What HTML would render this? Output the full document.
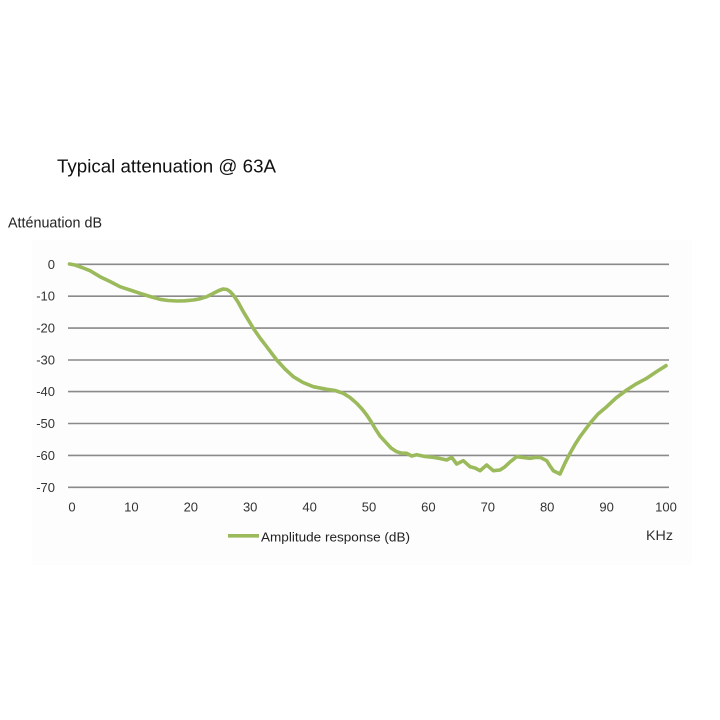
<!DOCTYPE html>
<html>
<head>
<meta charset="utf-8">
<style>
  html,body{margin:0;padding:0;background:#ffffff;}
  svg{display:block;}
  text{font-family:"Liberation Sans", sans-serif;}
</style>
</head>
<body>
<svg width="720" height="720" viewBox="0 0 720 720" xmlns="http://www.w3.org/2000/svg">
  <rect x="0" y="0" width="720" height="720" fill="#ffffff"/>
  <rect x="32" y="240" width="660" height="325" fill="#fdfdfd"/>

  <!-- Title -->
  <text x="57" y="172.3" font-size="18.5" fill="#111" textLength="219" lengthAdjust="spacingAndGlyphs">Typical attenuation @ 63A</text>

  <!-- Y axis title -->
  <text x="8" y="227.3" font-size="14.3" fill="#222" textLength="94" lengthAdjust="spacingAndGlyphs">Atténuation dB</text>

  <!-- Gridlines -->
  <g stroke="#8a8a8a" stroke-width="1.6">
    <line x1="68" y1="264.3" x2="669" y2="264.3"/>
    <line x1="68" y1="296.2" x2="669" y2="296.2"/>
    <line x1="68" y1="328.1" x2="669" y2="328.1"/>
    <line x1="68" y1="360" x2="669" y2="360"/>
    <line x1="68" y1="391.6" x2="669" y2="391.6"/>
    <line x1="68" y1="423.5" x2="669" y2="423.5"/>
    <line x1="68" y1="455.4" x2="669" y2="455.4"/>
    <line x1="68" y1="487.3" x2="669" y2="487.3"/>
  </g>

  <!-- Y tick labels -->
  <g font-size="13" fill="#333" text-anchor="end">
    <text x="55" y="268.8">0</text>
    <text x="55" y="300.7">-10</text>
    <text x="55" y="332.6">-20</text>
    <text x="55" y="364.5">-30</text>
    <text x="55" y="396.1">-40</text>
    <text x="55" y="428">-50</text>
    <text x="55" y="459.9">-60</text>
    <text x="55" y="491.8">-70</text>
  </g>

  <!-- X tick labels -->
  <g font-size="13" fill="#333" text-anchor="middle">
    <text x="72" y="511.5">0</text>
    <text x="131.4" y="511.5">10</text>
    <text x="190.8" y="511.5">20</text>
    <text x="250.2" y="511.5">30</text>
    <text x="309.6" y="511.5">40</text>
    <text x="369" y="511.5">50</text>
    <text x="428.4" y="511.5">60</text>
    <text x="487.8" y="511.5">70</text>
    <text x="547.2" y="511.5">80</text>
    <text x="606.6" y="511.5">90</text>
    <text x="666" y="511.5">100</text>
  </g>

  <!-- Curve -->
  <polyline fill="none" stroke="#9bba5c" stroke-width="3.6" stroke-linejoin="round" stroke-linecap="round"
    points="69.5,264 75,265 82,267.5 90,270.7 100,276.7 110,281.5 120,286.7 130,290 140,293.3 150,296.5 160,299.3 168,300.5 176.7,301 185,300.8 193.3,300 200,298.8 206.7,296.7 214,293 219,290.5 223.3,289 227,289.5 230,291.5 233.3,295 238,302 243.3,311.7 253.3,328.3 260,338 266.7,346.7 276.7,360 285,369 293.3,376.7 303,382.5 313.3,386.7 326.7,389.3 335,390.5 343.3,393.3 350,397.5 356.7,403.3 362,409 366.7,415 371,421.5 375,428.3 380,436 386.7,443.3 391,448 396.7,451.7 401,453 406.7,453.3 411.7,456 416.7,454.7 425,456.5 433.3,457.3 440,458.5 446.7,460 451.7,457.3 456.7,464 463.3,460.7 470,466.7 475,468 480,470.7 486.7,465 493.3,470.7 500,470 505,466.7 510,462 516.7,456.7 523,457.5 530,458.3 535,457.5 540,457.3 546.7,460.7 550,466 553.3,470.7 560,474 565,463 570,453.3 575,444.5 580,436.7 590,423.3 598,414 606.7,406.7 616,398 626.7,390 636,384 646.7,378.3 656,372 666,365.7"/>

  <!-- Legend -->
  <line x1="228" y1="535.8" x2="259" y2="535.8" stroke="#9bba5c" stroke-width="3.6"/>
  <text x="261" y="541.5" font-size="12.5" fill="#222" textLength="149" lengthAdjust="spacingAndGlyphs">Amplitude response (dB)</text>

  <!-- X axis unit -->
  <text x="646" y="540" font-size="14" fill="#333" textLength="27" lengthAdjust="spacingAndGlyphs">KHz</text>
</svg>
</body>
</html>
